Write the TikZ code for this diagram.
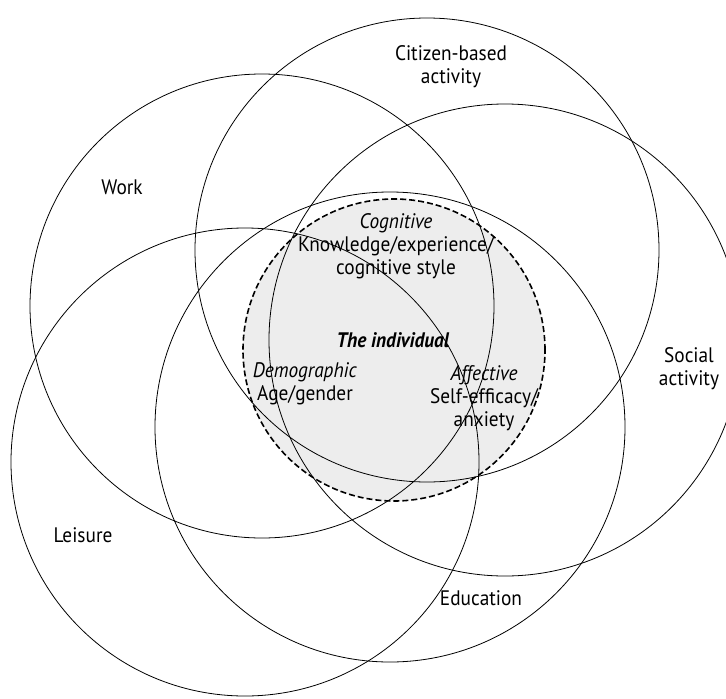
\documentclass[tikz,border=0pt]{standalone}
\usepackage{fontspec}
\setmainfont{PT Sans}[FakeStretch=0.92]
\begin{document}
\begin{tikzpicture}[x=1pt,y=-1pt,
  ring/.style={circle, draw, line width=0.8pt, inner sep=0pt, minimum size=#1},
  core/.style={circle, draw, fill=black!7, line width=1.6pt, dash pattern=on 6pt off 3pt, inner sep=0pt, minimum size=#1},
  lbl/.style={font=\fontsize{21}{23}\selectfont, align=center, inner sep=0pt}]
\useasboundingbox[fill=white] (0,0) rectangle (726,699);
\node[core=302pt] (indiv) at (394,350) {};
\node[ring=464pt] (citizen) at (427,250) {};
\node[ring=464pt] (work) at (262,306) {};
\node[ring=472pt] (social) at (505,340) {};
\node[ring=468pt] (leisure) at (245,462) {};
\node[ring=470pt] (education) at (390,427) {};
\node[lbl] (tcitizen) at (451,67) {Citizen-based\\activity};
\node[lbl] (twork) at (122,187) {Work};
\node[lbl] (tcog) at (396,246) {\textit{Cognitive}\\Knowledge/experience/\\cognitive style};
\node[lbl] (tind) at (393,340) {\textbf{\textit{The individual}}};
\node[lbl] (tdemo) at (305,384) {\textit{Demographic}\\Age/gender};
\node[lbl] (taff) at (484,398) {\textit{Affective}\\Self-efficacy/\\anxiety};
\node[lbl] (tsocial) at (689,369) {Social\\activity};
\node[lbl] (tleisure) at (83,535) {Leisure};
\node[lbl] (tedu) at (481,598) {Education};
\end{tikzpicture}
\end{document}
